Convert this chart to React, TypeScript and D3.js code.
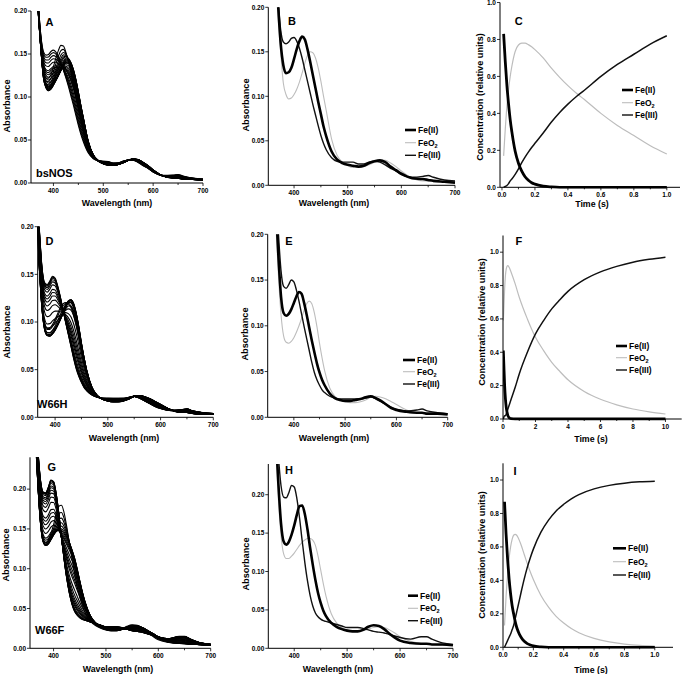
import React from 'react';
import * as d3 from 'd3';

// ---------- DATA ----------
const wavelengths = [365,370,375,380,385,390,395,400,405,410,415,420,425,430,435,440,445,450,455,460,470,480,490,500,510,520,530,540,550,560,570,580,590,600,620,640,650,660,680,700];

// bsNOS basis spectra (panel B)
const bsFeII = [0.25,0.205,0.16,0.135,0.126,0.127,0.132,0.142,0.153,0.162,0.167,0.164,0.153,0.139,0.124,0.109,0.094,0.080,0.066,0.055,0.038,0.029,0.025,0.023,0.022,0.021,0.022,0.025,0.027,0.028,0.026,0.021,0.017,0.013,0.008,0.007,0.006,0.005,0.004,0.003];
const bsFeO2 = [0.24,0.19,0.15,0.115,0.102,0.097,0.098,0.102,0.108,0.116,0.126,0.137,0.146,0.150,0.149,0.143,0.132,0.117,0.100,0.084,0.052,0.034,0.026,0.022,0.020,0.020,0.021,0.023,0.026,0.028,0.028,0.025,0.021,0.016,0.008,0.005,0.005,0.004,0.004,0.003];
const bsFeIII = [0.26,0.21,0.175,0.161,0.159,0.161,0.165,0.166,0.162,0.154,0.143,0.130,0.117,0.104,0.091,0.079,0.067,0.056,0.047,0.040,0.031,0.027,0.026,0.026,0.026,0.024,0.024,0.026,0.027,0.026,0.023,0.019,0.016,0.012,0.009,0.010,0.011,0.009,0.006,0.005];

// W66H basis spectra (panel E)
const whFeII = [0.23,0.175,0.132,0.114,0.111,0.113,0.118,0.125,0.132,0.137,0.135,0.125,0.112,0.098,0.084,0.071,0.059,0.049,0.041,0.035,0.026,0.021,0.019,0.018,0.018,0.019,0.020,0.022,0.023,0.021,0.018,0.014,0.010,0.008,0.006,0.005,0.005,0.004,0.004,0.003];
const whFeO2 = [0.21,0.155,0.112,0.089,0.082,0.081,0.083,0.087,0.093,0.100,0.108,0.117,0.124,0.127,0.124,0.114,0.099,0.081,0.065,0.051,0.032,0.023,0.019,0.017,0.016,0.016,0.017,0.019,0.022,0.023,0.022,0.020,0.017,0.014,0.008,0.005,0.005,0.004,0.003,0.003];
const whFeIII = [0.25,0.20,0.160,0.143,0.141,0.145,0.150,0.148,0.139,0.127,0.113,0.099,0.086,0.073,0.060,0.049,0.041,0.035,0.030,0.027,0.023,0.021,0.020,0.020,0.020,0.020,0.020,0.021,0.022,0.020,0.017,0.014,0.011,0.009,0.007,0.008,0.009,0.007,0.005,0.004];

// W66F basis spectra (panel H)
const wfFeII = [0.28,0.215,0.163,0.139,0.135,0.139,0.148,0.160,0.174,0.185,0.186,0.175,0.155,0.131,0.109,0.089,0.072,0.059,0.049,0.042,0.033,0.028,0.025,0.023,0.022,0.022,0.024,0.028,0.030,0.029,0.025,0.019,0.014,0.010,0.007,0.006,0.006,0.005,0.005,0.004];
const wfFeO2 = [0.26,0.195,0.147,0.123,0.117,0.117,0.120,0.124,0.129,0.134,0.138,0.141,0.143,0.143,0.141,0.134,0.120,0.102,0.084,0.068,0.045,0.033,0.027,0.024,0.022,0.022,0.023,0.025,0.027,0.028,0.027,0.024,0.020,0.015,0.009,0.006,0.005,0.005,0.004,0.004];
const wfFeIII = [0.30,0.25,0.212,0.197,0.196,0.203,0.212,0.210,0.195,0.170,0.140,0.112,0.088,0.069,0.055,0.046,0.041,0.038,0.036,0.035,0.033,0.031,0.029,0.027,0.027,0.027,0.026,0.024,0.022,0.021,0.020,0.018,0.016,0.014,0.012,0.015,0.015,0.012,0.007,0.005];

// kinetics bsNOS (panel C)
const tC = [0.01,0.02,0.03,0.04,0.05,0.06,0.08,0.10,0.12,0.14,0.16,0.18,0.20,0.25,0.30,0.35,0.40,0.45,0.50,0.60,0.70,0.80,0.90,1.00];
const feIIC = [0.83,0.68,0.55,0.45,0.365,0.30,0.195,0.13,0.087,0.057,0.038,0.025,0.017,0.006,0.002,0,0,0,0,0,0,0,0,0];
const feO2C = [0.17,0.315,0.44,0.53,0.60,0.655,0.735,0.77,0.78,0.78,0.772,0.76,0.745,0.70,0.645,0.595,0.55,0.51,0.475,0.40,0.335,0.28,0.225,0.18];
const feIIIC = [0,0.005,0.01,0.02,0.035,0.045,0.07,0.10,0.133,0.163,0.19,0.215,0.238,0.294,0.353,0.405,0.45,0.49,0.525,0.60,0.665,0.72,0.775,0.82];

// kinetics W66H (panel F)
const tF = [0.02,0.05,0.1,0.15,0.2,0.25,0.3,0.4,0.5,0.75,1,1.5,2,2.5,3,3.5,4,5,6,7,8,9,10];
const feIIF = [0.41,0.33,0.20,0.12,0.07,0.04,0.02,0.006,0.002,0,0,0,0,0,0,0,0,0,0,0,0,0,0];
const feO2F = [0.59,0.66,0.78,0.86,0.90,0.915,0.92,0.905,0.88,0.81,0.73,0.60,0.49,0.41,0.34,0.285,0.235,0.165,0.118,0.085,0.06,0.043,0.03];
const feIIIF = [0,0.01,0.02,0.02,0.03,0.045,0.06,0.089,0.118,0.19,0.27,0.40,0.51,0.59,0.66,0.715,0.765,0.835,0.882,0.915,0.94,0.957,0.97];

// kinetics W66F (panel I)
const tI = [0.01,0.02,0.03,0.04,0.05,0.06,0.07,0.08,0.09,0.10,0.12,0.14,0.16,0.18,0.20,0.25,0.30,0.35,0.40,0.45,0.50,0.60,0.70,0.80,0.90,1.00];
const feIII_I = [0.87,0.68,0.53,0.41,0.32,0.25,0.20,0.155,0.12,0.095,0.058,0.036,0.022,0.014,0.008,0.002,0,0,0,0,0,0,0,0,0,0];
const feO2I = [0.13,0.30,0.43,0.53,0.60,0.645,0.67,0.675,0.67,0.655,0.61,0.555,0.50,0.45,0.405,0.31,0.24,0.185,0.145,0.112,0.087,0.053,0.032,0.019,0.011,0.007];
const feIIII = [0,0.02,0.04,0.06,0.08,0.105,0.13,0.17,0.21,0.25,0.332,0.409,0.478,0.536,0.587,0.688,0.76,0.815,0.855,0.888,0.913,0.947,0.968,0.981,0.989,0.993];

const absTicks = [0, 0.05, 0.1, 0.15, 0.2];
const wlTicks = [400, 500, 600, 700];
const wlMinor = [450, 550, 650];
const concTicks = [0, 0.2, 0.4, 0.6, 0.8, 1.0];
const secTicks = [0, 0.2, 0.4, 0.6, 0.8, 1.0];
const secMinor = [0.1, 0.3, 0.5, 0.7, 0.9];
const tenTicks = [0, 2, 4, 6, 8, 10];
const tenMinor = [1, 3, 5, 7, 9];
const legendLabels = ['Fe(II)', 'FeO2', 'Fe(III)'];

// ---------- STYLE ----------
const FONT = "'Liberation Sans', Arial, Helvetica, sans-serif";
const GREY = '#bdbdbd';
const fmt2 = d3.format('.2f');
const fmt1 = d3.format('.1f');
const fmtD = d3.format('d');

type Spec = {
  id: string;
  xDomain: [number, number]; xRange: [number, number];
  yDomain: [number, number]; yRange: [number, number];
  xTicks: number[]; xMinor: number[]; yTicks: number[];
  xFmt: (n: number) => string; yFmt: (n: number) => string;
  letter: [number, number];
  xTitle: string; xTitlePos: [number, number];
  yTitle: string; yTitlePos: [number, number];
};

const specs: Record<string, Spec> = {
  A: { id: 'A', xDomain: [355, 700], xRange: [31, 203], yDomain: [0, 0.2], yRange: [183, 11], xTicks: wlTicks, xMinor: wlMinor, yTicks: absTicks, xFmt: fmtD, yFmt: fmt2, letter: [49.5, 22], xTitle: 'Wavelength (nm)', xTitlePos: [117, 203], yTitle: 'Absorbance', yTitlePos: [7, 106] },
  B: { id: 'B', xDomain: [352, 700], xRange: [268.3, 455], yDomain: [0, 0.2], yRange: [185.3, 7.3], xTicks: wlTicks, xMinor: wlMinor, yTicks: absTicks, xFmt: fmtD, yFmt: fmt2, letter: [292, 21], xTitle: 'Wavelength (nm)', xTitlePos: [334, 203], yTitle: 'Absorbance', yTitlePos: [246, 105] },
  C: { id: 'C', xDomain: [-0.012, 1.08], xRange: [500, 680], yDomain: [0, 1], yRange: [187.3, 2.5], xTicks: secTicks, xMinor: secMinor, yTicks: concTicks, xFmt: fmt1, yFmt: fmt1, letter: [518.8, 21], xTitle: 'Time (s)', xTitlePos: [592, 204], yTitle: 'Concentration (relative units)', yTitlePos: [479.5, 97] },
  D: { id: 'D', xDomain: [367, 700], xRange: [37.7, 213.3], yDomain: [0, 0.2], yRange: [417.3, 226.7], xTicks: wlTicks, xMinor: wlMinor, yTicks: absTicks, xFmt: fmtD, yFmt: fmt2, letter: [49.5, 241], xTitle: 'Wavelength (nm)', xTitlePos: [124, 438], yTitle: 'Absorbance', yTitlePos: [7, 332] },
  E: { id: 'E', xDomain: [349, 700], xRange: [267.7, 447.7], yDomain: [0, 0.2], yRange: [417.3, 234.3], xTicks: wlTicks, xMinor: wlMinor, yTicks: absTicks, xFmt: fmtD, yFmt: fmt2, letter: [288.8, 241], xTitle: 'Wavelength (nm)', xTitlePos: [334, 438], yTitle: 'Absorbance', yTitlePos: [245, 334] },
  F: { id: 'F', xDomain: [0, 11], xRange: [503, 681.7], yDomain: [0, 1.1], yRange: [419, 235.5], xTicks: tenTicks, xMinor: tenMinor, yTicks: concTicks, xFmt: fmtD, yFmt: fmt1, letter: [518.8, 241], xTitle: 'Time (s)', xTitlePos: [591, 439], yTitle: 'Concentration (relative units)', yTitlePos: [481.7, 322] },
  G: { id: 'G', xDomain: [355, 700], xRange: [30, 210.7], yDomain: [0, 0.24], yRange: [648.3, 457.3], xTicks: wlTicks, xMinor: wlMinor, yTicks: absTicks, xFmt: fmtD, yFmt: fmt2, letter: [51.7, 467], xTitle: 'Wavelength (nm)', xTitlePos: [118, 669], yTitle: 'Absorbance', yTitlePos: [6, 555] },
  H: { id: 'H', xDomain: [351, 700], xRange: [268.3, 453], yDomain: [0, 0.24], yRange: [648.3, 464], xTicks: wlTicks, xMinor: wlMinor, yTicks: absTicks, xFmt: fmtD, yFmt: fmt2, letter: [289, 469.5], xTitle: 'Wavelength (nm)', xTitlePos: [338, 669], yTitle: 'Absorbance', yTitlePos: [245.5, 564] },
  I: { id: 'I', xDomain: [0, 1.12], xRange: [503, 673], yDomain: [0, 1.1], yRange: [647.3, 463.3], xTicks: secTicks, xMinor: secMinor, yTicks: concTicks, xFmt: fmt1, yFmt: fmt1, letter: [515, 470.8], xTitle: 'Time (s)', xTitlePos: [591, 670], yTitle: 'Concentration (relative units)', yTitlePos: [481.7, 555] },
};

const legends: Record<string, { x1: number; x2: number; tx: number; ys: number[] }> = {
  B: { x1: 405, x2: 416, tx: 418, ys: [130, 142.7, 155.3] },
  C: { x1: 622, x2: 633, tx: 635, ys: [90, 102.7, 115] },
  E: { x1: 403, x2: 415, tx: 417, ys: [360, 371.7, 384] },
  F: { x1: 616, x2: 627, tx: 629, ys: [346, 357.7, 370] },
  H: { x1: 408, x2: 418, tx: 420, ys: [595.7, 608.3, 620.7] },
  I: { x1: 613, x2: 626, tx: 628, ys: [548.3, 561.7, 575] },
};

const STYLES = [
  { stroke: '#000', width: 2.6 },
  { stroke: GREY, width: 1.1 },
  { stroke: '#111', width: 1.4 },
];

function scalesOf(s: Spec) {
  return {
    x: d3.scaleLinear().domain(s.xDomain).range(s.xRange),
    y: d3.scaleLinear().domain(s.yDomain).range(s.yRange),
  };
}

function pathOf(xs: number[], ys: number[], sx: any, sy: any) {
  return d3.line<number>().x((_, i) => sx(xs[i])).y((d) => sy(d)).curve(d3.curveMonotoneX)(ys) || '';
}

function Axes({ s }: { s: Spec }) {
  const { x, y } = scalesOf(s);
  const x0 = s.xRange[0];
  const y0 = s.yRange[0];
  return (
    <g fontFamily={FONT} fontWeight="bold" fill="#000">
      <line x1={x0} x2={x0} y1={s.yRange[1]} y2={y0} stroke="#000" strokeWidth={1} />
      <line x1={x0} x2={s.xRange[1]} y1={y0} y2={y0} stroke="#000" strokeWidth={1} />
      {s.yTicks.map((t) => (
        <g key={'y' + t}>
          <line x1={x0 - 3} x2={x0} y1={y(t)} y2={y(t)} stroke="#000" strokeWidth={0.8} />
          <text x={x0 - 4} y={y(t) + 2.3} fontSize={6.5} textAnchor="end">{s.yFmt(t)}</text>
        </g>
      ))}
      {s.xTicks.map((t) => (
        <g key={'x' + t}>
          <line x1={x(t)} x2={x(t)} y1={y0} y2={y0 + 3} stroke="#000" strokeWidth={0.8} />
          <text x={x(t)} y={y0 + 9.5} fontSize={6.5} textAnchor="middle">{s.xFmt(t)}</text>
        </g>
      ))}
      {s.xMinor.map((t) => (
        <line key={'m' + t} x1={x(t)} x2={x(t)} y1={y0} y2={y0 + 2} stroke="#000" strokeWidth={0.8} />
      ))}
      <text x={s.letter[0]} y={s.letter[1] + 4} fontSize={11} textAnchor="middle">{s.id}</text>
      <text x={s.xTitlePos[0]} y={s.xTitlePos[1] + 3.2} fontSize={8.8} textAnchor="middle">{s.xTitle}</text>
      <text transform={`translate(${s.yTitlePos[0]},${s.yTitlePos[1]}) rotate(-90)`} x={0} y={3.2} fontSize={9.2} textAnchor="middle">{s.yTitle}</text>
    </g>
  );
}

function Legend({ id }: { id: string }) {
  const l = legends[id];
  return (
    <g fontFamily={FONT} fontWeight="bold" fontSize={8.5}>
      {legendLabels.map((lab, i) => (
        <g key={lab}>
          <line x1={l.x1} x2={l.x2} y1={l.ys[i]} y2={l.ys[i]} stroke={STYLES[i].stroke} strokeWidth={STYLES[i].width} />
          <text x={l.tx} y={l.ys[i] + 3}>
            {lab === 'FeO2' ? (<>FeO<tspan dy={2} fontSize={5.5}>2</tspan></>) : lab}
          </text>
        </g>
      ))}
    </g>
  );
}

function Clip({ s, children }: { s: Spec; children: React.ReactNode }) {
  return (
    <g clipPath={`url(#clip${s.id})`}>{children}</g>
  );
}

function BasisPanel({ s, basis }: { s: Spec; basis: number[][] }) {
  const { x, y } = scalesOf(s);
  const order = [1, 2, 0];
  return (
    <g>
      <Clip s={s}>
        {order.map((i) => (
          <path key={i} d={pathOf(wavelengths, basis[i], x, y)} fill="none" stroke={STYLES[i].stroke} strokeWidth={STYLES[i].width} />
        ))}
      </Clip>
      <Axes s={s} />
      <Legend id={s.id} />
    </g>
  );
}

function FamilyPanel({ s, basis, conc, label, labelPos }: { s: Spec; basis: number[][]; conc: number[][]; label: string; labelPos: [number, number] }) {
  const { x, y } = scalesOf(s);
  const spectra = conc[0].map((_, k) =>
    wavelengths.map((_, j) => conc[0][k] * basis[0][j] + conc[1][k] * basis[1][j] + conc[2][k] * basis[2][j])
  );
  return (
    <g>
      <Clip s={s}>
        {spectra.map((sp, k) => (
          <path key={k} d={pathOf(wavelengths, sp, x, y)} fill="none" stroke="#000" strokeWidth={1.1} />
        ))}
      </Clip>
      <Axes s={s} />
      <text x={labelPos[0]} y={labelPos[1]} fontFamily={FONT} fontWeight="bold" fontSize={11}>{label}</text>
    </g>
  );
}

function KineticPanel({ s, t, conc }: { s: Spec; t: number[]; conc: number[][] }) {
  const { x, y } = scalesOf(s);
  const order = [1, 2, 0];
  return (
    <g>
      <Clip s={s}>
        {order.map((i) => (
          <path key={i} d={pathOf(t, conc[i], x, y)} fill="none" stroke={STYLES[i].stroke} strokeWidth={i === 0 ? 2.8 : i === 2 ? 1.5 : 1.2} strokeLinejoin="round" />
        ))}
      </Clip>
      <Axes s={s} />
      <Legend id={s.id} />
    </g>
  );
}

export default function App() {
  const bs = [bsFeII, bsFeO2, bsFeIII];
  const wh = [whFeII, whFeO2, whFeIII];
  const wf = [wfFeII, wfFeO2, wfFeIII];
  const cC = [feIIC, feO2C, feIIIC];
  const cF = [feIIF, feO2F, feIIIF];
  const cI = [feIII_I, feO2I, feIIII];
  return (
    <svg width={685} height={674} style={{ position: 'absolute', left: 0, top: 0, background: '#fff' }}>
      <defs>
        {Object.values(specs).map((s) => {
          const top = Math.min(s.yRange[0], s.yRange[1]);
          return (
            <clipPath key={s.id} id={`clip${s.id}`}>
              <rect x={s.xRange[0]} y={top} width={s.xRange[1] - s.xRange[0] + 2} height={Math.abs(s.yRange[0] - s.yRange[1]) + 1.5} />
            </clipPath>
          );
        })}
      </defs>
      <rect x={0} y={0} width={685} height={674} fill="#fff" />
      <FamilyPanel s={specs.A} basis={bs} conc={cC} label="bsNOS" labelPos={[36, 177]} />
      <BasisPanel s={specs.B} basis={bs} />
      <KineticPanel s={specs.C} t={tC} conc={cC} />
      <FamilyPanel s={specs.D} basis={wh} conc={cF} label="W66H" labelPos={[37, 408]} />
      <BasisPanel s={specs.E} basis={wh} />
      <KineticPanel s={specs.F} t={tF} conc={cF} />
      <FamilyPanel s={specs.G} basis={wf} conc={cI} label="W66F" labelPos={[35, 634]} />
      <BasisPanel s={specs.H} basis={wf} />
      <KineticPanel s={specs.I} t={tI} conc={cI} />
    </svg>
  );
}
